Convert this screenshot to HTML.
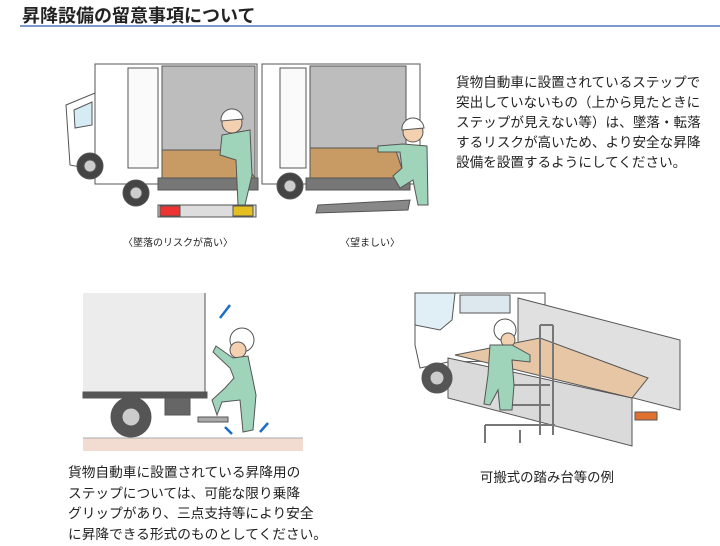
<!DOCTYPE html>
<html><head><meta charset="utf-8"><style>
body{margin:0;width:720px;height:546px;background:#fff;overflow:hidden;position:relative;font-family:"Liberation Sans","Noto Sans CJK JP",sans-serif;color:#222}
.t{position:absolute;white-space:nowrap}
</style></head><body>
<div class="t" style="left:22px;top:2px;font-size:18px;font-weight:bold;color:#222">昇降設備の留意事項について</div>
<div style="position:absolute;left:20px;top:25px;width:700px;height:2px;background:#7c9ad0"></div>
<svg width="720" height="546" style="position:absolute;left:0;top:0">
<g stroke="#555" stroke-width="1">
<polygon points="66,105 95,93 95,170 70,165" fill="#fff"/>
<polygon points="74,110 92,102 92,125 75,128" fill="#d6ecf5"/>
<rect x="95" y="64" width="162" height="120" fill="#fff"/>
<rect x="128" y="68" width="30" height="100" fill="#fafafa"/>
<rect x="162" y="66" width="93" height="112" fill="#bdbdbd"/>
<polygon points="162,150 235,150 255,178 162,178" fill="#c89a64"/>
<rect x="158" y="178" width="100" height="12" fill="#777"/>
<circle cx="90" cy="166" r="13" fill="#444"/><circle cx="90" cy="166" r="6" fill="#ccc"/>
<circle cx="136" cy="193" r="13" fill="#444"/><circle cx="136" cy="193" r="6" fill="#ccc"/>
<rect x="158" y="205" width="98" height="12" fill="#ddd"/>
<rect x="160" y="206" width="20" height="10" fill="#e33"/><rect x="233" y="206" width="20" height="10" fill="#e3c020"/>
<rect x="262" y="64" width="158" height="120" fill="#fff"/>
<rect x="280" y="68" width="26" height="100" fill="#fafafa"/>
<rect x="310" y="66" width="96" height="112" fill="#bdbdbd"/>
<polygon points="310,148 395,148 405,178 310,178" fill="#c89a64"/>
<rect x="306" y="178" width="104" height="12" fill="#777"/>
<circle cx="290" cy="186" r="13" fill="#444"/><circle cx="290" cy="186" r="6" fill="#ccc"/>
<polygon points="318,205 410,200 408,210 316,213" fill="#888"/>
<circle cx="232" cy="123" r="10" fill="#f3d0b0"/><path d="M221,121 a11,11 0 0 1 22,-2z" fill="#fff"/>
<path d="M222,135 L250,130 L252,175 L245,205 L238,205 L236,160 L220,155z" fill="#9fd4bb"/>
<circle cx="413" cy="132" r="10" fill="#f3d0b0"/><path d="M402,130 a11,11 0 0 1 22,-2z" fill="#fff"/>
<path d="M403,144 L427,146 L428,205 L418,205 L413,180 L400,188 L393,176 L402,168 L400,152 L378,152 L378,146z" fill="#9fd4bb"/>
<rect x="83" y="293" width="122" height="100" fill="#ececec" stroke="none"/>
<line x1="205" y1="293" x2="205" y2="393"/>
<rect x="83" y="392" width="124" height="6" fill="#555"/>
<rect x="165" y="398" width="25" height="17" fill="#666"/>
<circle cx="131" cy="417" r="20" fill="#555"/><circle cx="131" cy="417" r="9" fill="#ccc"/>
<rect x="198" y="417" width="30" height="5" fill="#aaa"/>
<circle cx="242" cy="340" r="12" fill="#fff"/><circle cx="238" cy="350" r="8" fill="#f3d0b0"/>
<path d="M216,346 L233,358 L248,356 L256,395 L253,430 L243,432 L240,400 L222,402 L217,415 L212,400 L225,388 L234,378 L230,368 L213,352z" fill="#9fd4bb"/>
<path d="M230,305 L220,318 M225,427 L232,434 M268,423 L260,432" stroke="#1a6ec8" stroke-width="2.5"/>
<polygon points="415,293 545,293 545,360 448,362 420,368 415,345" fill="#fff"/>
<rect x="460" y="295" width="50" height="18" fill="#dce8ee"/>
<polygon points="415,293 455,293 452,320 440,330 415,325" fill="#e0eef5"/>
<polygon points="518,298 680,340 680,410 518,368" fill="#e0e0e0"/>
<polygon points="455,355 540,338 648,378 632,398" fill="#e6c6a5"/>
<polygon points="448,358 632,398 632,446 448,398" fill="#dadada"/>
<circle cx="437" cy="378" r="15" fill="#555"/><circle cx="437" cy="378" r="7" fill="#ccc"/>
<rect x="635" y="412" width="22" height="8" fill="#e07030"/>
<path d="M540,325 v110 M553,325 v110 M540,325 h13 M485,425 h70 M500,405 h50 M485,425 v18 M520,430 v13 M510,385 h40" fill="none" stroke="#777" stroke-width="2"/>
<circle cx="505" cy="330" r="11" fill="#fff"/><circle cx="508" cy="340" r="7" fill="#f3d0b0"/>
<path d="M490,345 L512,345 L530,355 L530,362 L512,360 L514,385 L512,410 L500,410 L498,390 L490,405 L484,404 L488,375z" fill="#9fd4bb"/>
</g>
<rect x="83" y="438" width="220" height="13" fill="#f2dcd2"/>
<line x1="83" y1="438" x2="303" y2="438" stroke="#aaa"/>
</svg>
<div class="t" style="left:123px;top:234px;font-size:10px">〈墜落のリスクが高い〉</div>
<div class="t" style="left:340px;top:234px;font-size:10px">〈望ましい〉</div>
<div class="t" style="left:456px;top:73px;font-size:13.6px;line-height:20px">貨物自動車に設置されているステップで<br>突出していないもの（上から見たときに<br>ステップが見えない等）は、墜落・転落<br>するリスクが高いため、より安全な昇降<br>設備を設置するようにしてください。</div>
<div class="t" style="left:68px;top:463px;font-size:13.7px;line-height:20.5px">貨物自動車に設置されている昇降用の<br>ステップについては、可能な限り乗降<br>グリップがあり、三点支持等により安全<br>に昇降できる形式のものとしてください。</div>
<div class="t" style="left:480px;top:466px;font-size:13.4px">可搬式の踏み台等の例</div>
</body></html>
